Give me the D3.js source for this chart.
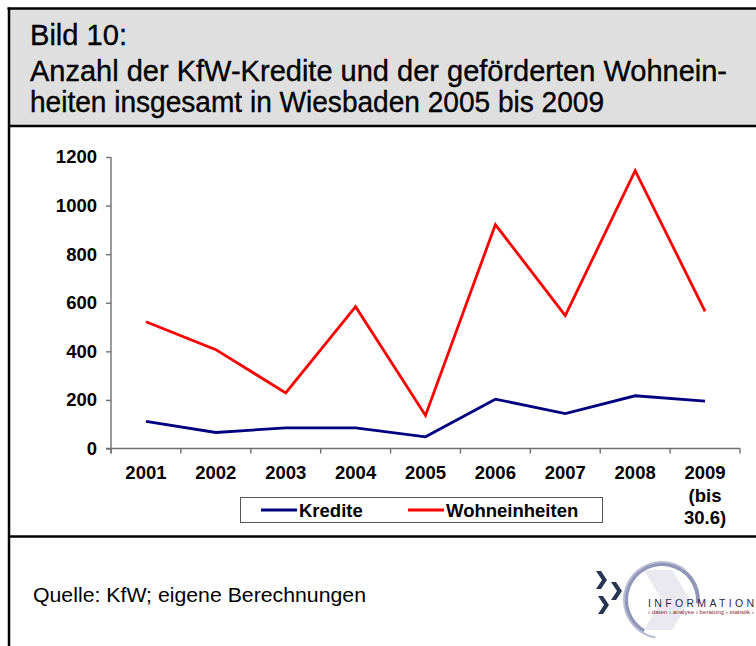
<!DOCTYPE html>
<html>
<head>
<meta charset="utf-8">
<script src="https://cdn.jsdelivr.net/npm/d3@7"></script>
<style>
  body { margin: 0; background: #fff; }
  svg { display: block; font-family: "Liberation Sans", Arial, sans-serif; }
</style>
</head>
<body>
<svg id="chart" width="756" height="646"></svg>
<script>
var years = ["2001", "2002", "2003", "2004", "2005", "2006", "2007", "2008", "2009"];
var yearLabels = [["2001"], ["2002"], ["2003"], ["2004"], ["2005"], ["2006"], ["2007"], ["2008"], ["2009", "(bis", "30.6)"]];
var kredite = [112, 66, 85, 85, 48, 203, 144, 217, 195];
var wohneinheiten = [522, 407, 229, 584, 136, 922, 547, 1144, 565];
var yTicks = [0, 200, 400, 600, 800, 1000, 1200];
var seriesNames = ["Kredite", "Wohneinheiten"];
var seriesColors = ["#000080", "#ff0000"];
var titleLines = ["Bild 10:", "Anzahl der KfW-Kredite und der geförderten Wohnein-", "heiten insgesamt in Wiesbaden 2005 bis 2009"];
var source = "Quelle: KfW; eigene Berechnungen";

var svg = d3.select("#chart");

// header box + frame
svg.append("rect").attr("x", 9).attr("y", 9).attr("width", 760).attr("height", 117)
  .attr("fill", "#dfdfdf");
svg.append("line").attr("x1", 7.5).attr("x2", 756).attr("y1", 8.5).attr("y2", 8.5)
  .attr("stroke", "#000").attr("stroke-width", 2.5);
svg.append("line").attr("x1", 9).attr("x2", 9).attr("y1", 7.5).attr("y2", 646)
  .attr("stroke", "#000").attr("stroke-width", 2.5);
svg.append("line").attr("x1", 9).attr("x2", 756).attr("y1", 126).attr("y2", 126)
  .attr("stroke", "#000").attr("stroke-width", 2.5);
svg.append("line").attr("x1", 9).attr("x2", 756).attr("y1", 536.5).attr("y2", 536.5)
  .attr("stroke", "#000").attr("stroke-width", 2.5);

var titleY = [45, 81, 112];
var titleW = [97, 697, 574];
titleLines.forEach(function(t, i) {
  svg.append("text").attr("x", 30).attr("y", titleY[i])
    .attr("font-size", 29).attr("fill", "#000")
    .attr("stroke", "#000").attr("stroke-width", 0.35)
    .attr("textLength", titleW[i]).attr("lengthAdjust", "spacingAndGlyphs").text(t);
});

// scales
var x = d3.scaleBand().domain(years).range([111, 740]);
var y = d3.scaleLinear().domain([0, 1200]).range([448.5, 157]);
var axisColor = "#707070";
var labelFont = 18.5;

// y axis
var yAxis = svg.append("g").attr("transform", "translate(111,0)")
  .call(d3.axisLeft(y).tickValues(yTicks).tickFormat(d3.format("d")).tickSize(5).tickPadding(9));
yAxis.select(".domain").attr("stroke", axisColor).attr("stroke-width", 1.4)
  .attr("d", "M0," + y(1200) + "V" + (y(0) + 5));
yAxis.selectAll(".tick line").attr("stroke", axisColor).attr("stroke-width", 1.4);
yAxis.selectAll(".tick text").attr("font-size", labelFont).attr("font-weight", "bold")
  .attr("fill", "#000").attr("font-family", "Liberation Sans, Arial, sans-serif");

// x axis
var xAxis = svg.append("g").attr("transform", "translate(0," + y(0) + ")");
xAxis.append("line").attr("x1", 106).attr("x2", 740).attr("stroke", axisColor).attr("stroke-width", 1.4);
var bounds = years.map(function(d) { return x(d); }).concat([x.range()[1]]);
xAxis.selectAll(".xtick").data(bounds).enter().append("line")
  .attr("x1", function(d) { return d; }).attr("x2", function(d) { return d; })
  .attr("y1", 0).attr("y2", 5).attr("stroke", axisColor).attr("stroke-width", 1.4);
xAxis.selectAll(".xlab").data(years).enter().append("text")
  .attr("text-anchor", "middle").attr("font-size", labelFont).attr("font-weight", "bold")
  .each(function(d, i) {
    var t = d3.select(this);
    yearLabels[i].forEach(function(s, j) {
      t.append("tspan").attr("x", x(d) + x.bandwidth() / 2).attr("y", 30.5 + j * 22.5).text(s);
    });
  });

// lines
var line = d3.line()
  .x(function(d, i) { return x(years[i]) + x.bandwidth() / 2; })
  .y(function(d) { return y(d); });
[kredite, wohneinheiten].forEach(function(s, i) {
  svg.append("path").datum(s).attr("d", line).attr("fill", "none")
    .attr("stroke", seriesColors[i]).attr("stroke-width", 2.8).attr("stroke-linejoin", "miter");
});

// legend
var lg = svg.append("g").attr("transform", "translate(240,497)");
lg.append("rect").attr("x", 0.5).attr("y", 0.5).attr("width", 362).attr("height", 25)
  .attr("fill", "#fff").attr("stroke", "#555").attr("stroke-width", 1);
var legX = [21, 168];
seriesNames.forEach(function(n, i) {
  lg.append("line").attr("x1", legX[i]).attr("x2", legX[i] + 36).attr("y1", 13).attr("y2", 13)
    .attr("stroke", seriesColors[i]).attr("stroke-width", 2.8);
  lg.append("text").attr("x", legX[i] + 38).attr("y", 19.5).attr("font-size", labelFont)
    .attr("font-weight", "bold").text(n);
});

// source
svg.append("text").attr("x", 33).attr("y", 602).attr("font-size", 21)
  .attr("textLength", 333).attr("lengthAdjust", "spacingAndGlyphs").text(source);

// logo
var logo = svg.append("g").attr("transform", "translate(662,600)");
logo.append("path")
  .attr("d", "M-18,-30 L10,-30 L28,0 L10,30 L-18,30 L0,0 Z")
  .attr("fill", "#e9e9ef");
var arc = d3.arc().innerRadius(34).outerRadius(38);
logo.append("path").attr("d", arc({startAngle: 0.35, endAngle: 2 * Math.PI + 0.35 - 2.0}))
  .attr("transform", "rotate(190)")
  .attr("fill", "#8f96b8");
logo.append("path").attr("d", arc.innerRadius(37).outerRadius(39)({startAngle: 0, endAngle: 3.6}))
  .attr("transform", "rotate(190)")
  .attr("fill", "#b9bdd3");
var chev = "M0,0 L5,0 L11,9 L5,18 L0,18 L6,9 Z";
[[-66, -29], [-51, -18], [-64, -4]].forEach(function(p) {
  logo.append("path").attr("d", chev).attr("transform", "translate(" + p[0] + "," + p[1] + ")")
    .attr("fill", "#263650");
});
logo.append("text").attr("x", -14).attr("y", 7).attr("font-size", 10.5)
  .attr("textLength", 106).attr("lengthAdjust", "spacing")
  .attr("fill", "#1e2d4a").text("INFORMATION");
logo.append("text").attr("x", -14).attr("y", 14).attr("font-size", 4.8)
  .attr("textLength", 106).attr("lengthAdjust", "spacingAndGlyphs")
  .attr("fill", "#8a2b3b").text("‹ daten › analyse › beratung › statistik ›");
</script>
</body>
</html>
